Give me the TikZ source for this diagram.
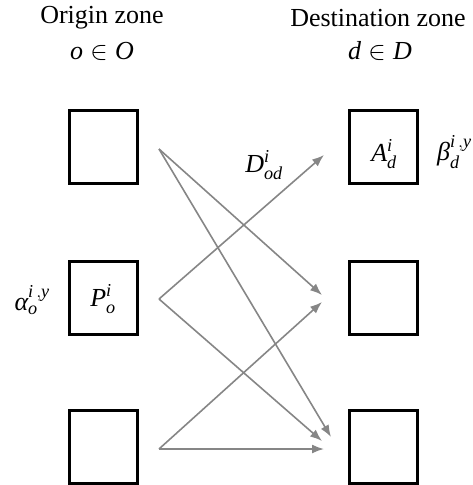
\RequirePackage{fix-cm}
\documentclass[tikz,border=0pt]{standalone}
\usepackage{amsmath}
\usepackage{fontspec}
\setmainfont{Liberation Serif}
\usetikzlibrary{arrows.meta}
\newcommand{\mi}[1]{\textit{#1}}
\begin{document}
\begin{tikzpicture}[x=1pt,y=-1pt,
  zonebox/.style={draw=black,line width=3pt,minimum width=68pt,minimum height=73pt,inner sep=0pt},
  flow/.style={draw=gray!95,line width=1.6pt,-{Latex[length=12pt,width=9pt]}},
  lbl/.style={font=\fontsize{26}{30}\selectfont,inner sep=0pt}]
\useasboundingbox (0,0) rectangle (472,485);
% boxes
\node[zonebox] (o1) at (103.5,146.5) {};
\node[zonebox] (o2) at (103.5,297.5) {};
\node[zonebox] (o3) at (103.5,446.5) {};
\node[zonebox] (d1) at (383.5,146.5) {};
\node[zonebox] (d2) at (383.5,297.5) {};
\node[zonebox] (d3) at (383.5,446.5) {};
% headings
\node[lbl] (ho) at (102,18) {Origin zone};
\node[lbl] (so) at (102,51) {$\mi{o}\in \mi{O}$};
\node[lbl] (hd) at (378,18) {Destination zone};
\node[lbl] (sd) at (380,51) {$\mi{d}\in \mi{D}$};
% labels
\node[lbl] at (103,299) {$\mi{P}^{\mi{i}}_{\mi{o}}$};
\node[lbl] at (384,154) {$\mi{A}^{\mi{i}}_{\mi{d}}$};
\node[lbl,anchor=west] (beta) at (437,152) {$\mi{β}^{\mi{i}\,,\mi{y}}_{\mi{d}}$};
\node[lbl,anchor=east] (alpha) at (50,300) {$\mi{α}^{\mi{i}\,,\mi{y}}_{\mi{o}}$};
\node[lbl] (dod) at (264,165) {$\mi{D}^{\mi{i}}_{\mi{od}}$};
% arrow anchor points
\coordinate (s1) at (159,149);
\coordinate (s2) at (159,299);
\coordinate (s3) at (159,449);
\coordinate (t1) at (324,155);
\coordinate (t2a) at (322,295);
\coordinate (t2b) at (322,302);
\coordinate (t3a) at (331,437);
\coordinate (t3b) at (322,441);
\coordinate (t3c) at (324,449);
% arrows
\draw[flow] (s1) -- (t2a);
\draw[flow] (s1) -- (t3a);
\draw[flow] (s2) -- (t1);
\draw[flow] (s2) -- (t3b);
\draw[flow] (s3) -- (t2b);
\draw[flow] (s3) -- (t3c);
\end{tikzpicture}
\end{document}
